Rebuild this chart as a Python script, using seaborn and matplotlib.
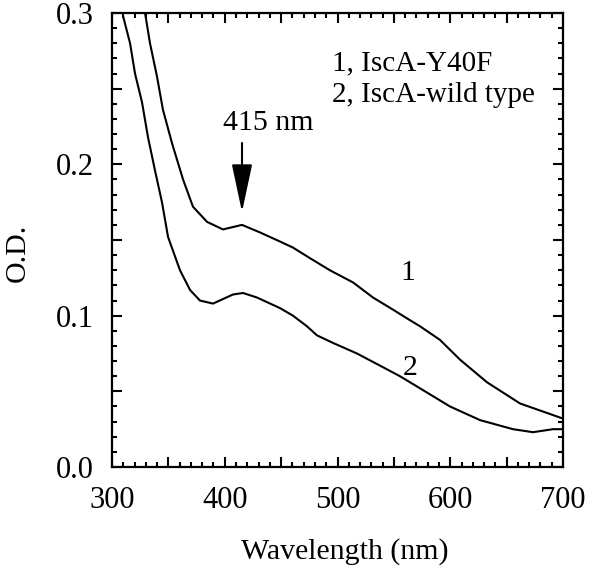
import numpy as np
import pandas as pd
import seaborn as sns
import matplotlib.pyplot as plt
from matplotlib.ticker import MultipleLocator, FuncFormatter

# Spectrum 1, IscA-Y40F
wl_y40f = [329.3, 333.7, 339.9, 345.2, 353.2, 363.0, 371.8, 384.3, 398.4, 415.3, 431.3,
           449.0, 460.5, 475.6, 493.3, 513.7, 531.5, 549.2, 564.3, 573.2, 590.9, 608.6,
           632.6, 661.9, 700.0]
od_y40f = [0.300, 0.280, 0.258, 0.236, 0.214, 0.190, 0.172, 0.162, 0.157, 0.160, 0.155,
           0.149, 0.145, 0.138, 0.130, 0.122, 0.112, 0.104, 0.097, 0.093, 0.084, 0.071,
           0.056, 0.042, 0.032]

# Spectrum 2, IscA wild type
wl_wt = [309.8, 316.0, 320.4, 326.6, 331.9, 338.1, 344.3, 349.7, 360.3, 369.2, 378.0,
         389.6, 407.3, 416.2, 428.6, 449.0, 460.5, 472.9, 481.8, 496.0, 517.3, 537.7,
         555.4, 573.2, 599.8, 626.4, 655.7, 673.4, 691.1, 700.0]
od_wt = [0.298, 0.280, 0.260, 0.241, 0.218, 0.196, 0.175, 0.152, 0.130, 0.117, 0.110,
         0.108, 0.114, 0.115, 0.112, 0.105, 0.100, 0.093, 0.087, 0.082, 0.075, 0.067,
         0.060, 0.052, 0.040, 0.031, 0.025, 0.023, 0.025, 0.025]

df = pd.concat([
    pd.DataFrame({"wavelength": wl_y40f, "od": od_y40f, "sample": "1"}),
    pd.DataFrame({"wavelength": wl_wt, "od": od_wt, "sample": "2"}),
])

sns.set_theme(style="ticks")
plt.rcParams["font.family"] = ["Liberation Serif", "DejaVu Serif"]
plt.rcParams["text.color"] = "black"
plt.rcParams["axes.labelcolor"] = "black"

fig = plt.figure(figsize=(6.0, 5.71), dpi=100)
ax = fig.add_axes([0.1867, 0.1821, 0.7516, 0.7951])

sns.lineplot(data=df, x="wavelength", y="od", units="sample", estimator=None,
             color="black", linewidth=1.5, ax=ax, sort=False)

ax.set_xlim(300, 700)
ax.set_ylim(0, 0.3)
ax.xaxis.set_major_locator(MultipleLocator(50))
ax.xaxis.set_minor_locator(MultipleLocator(10))
ax.yaxis.set_major_locator(MultipleLocator(0.05))
ax.yaxis.set_minor_locator(MultipleLocator(0.01))
ax.xaxis.set_major_formatter(FuncFormatter(lambda v, p: f"{v:.0f}" if round(v) % 100 == 0 else ""))
ax.yaxis.set_major_formatter(FuncFormatter(lambda v, p: f"{v:.1f}" if round(v * 100) % 10 == 0 else ""))

ax.tick_params(which="both", direction="in", top=True, right=True, width=1.5, colors="black")
ax.tick_params(which="major", length=7, labelsize=22)
ax.tick_params(axis="x", which="major", pad=14)
ax.tick_params(axis="y", which="major", pad=13)
ax.tick_params(which="minor", length=3.5)
for s in ax.spines.values():
    s.set_linewidth(1.6)
    s.set_color("black")

ax.set_xlabel("Wavelength (nm)", fontsize=21.5)
ax.set_ylabel("O.D.", fontsize=21.5)
ax.xaxis.set_label_coords(0.517, -0.156)
ax.yaxis.set_label_coords(-0.18, 0.471)

ax.annotate("", xy=(415.3, 0.1685), xytext=(415.3, 0.2141),
            arrowprops=dict(arrowstyle="-|>,head_length=1.5,head_width=0.32",
                            mutation_scale=20, color="black", lw=1.5,
                            shrinkA=0, shrinkB=0))
ax.text(438.4, 0.2274, "415 nm", fontsize=21.5, ha="center", va="center")
ax.text(562.5, 0.128, "1", fontsize=21.5, ha="center", va="center")
ax.text(564.3, 0.0654, "2", fontsize=21.5, ha="center", va="center")
ax.text(495.1, 0.267, "1, IscA-Y40F", fontsize=21, ha="left", va="center")
ax.text(495.1, 0.2459, "2, IscA-wild type", fontsize=21, ha="left", va="center")

fig.savefig("out.png", dpi=100)
